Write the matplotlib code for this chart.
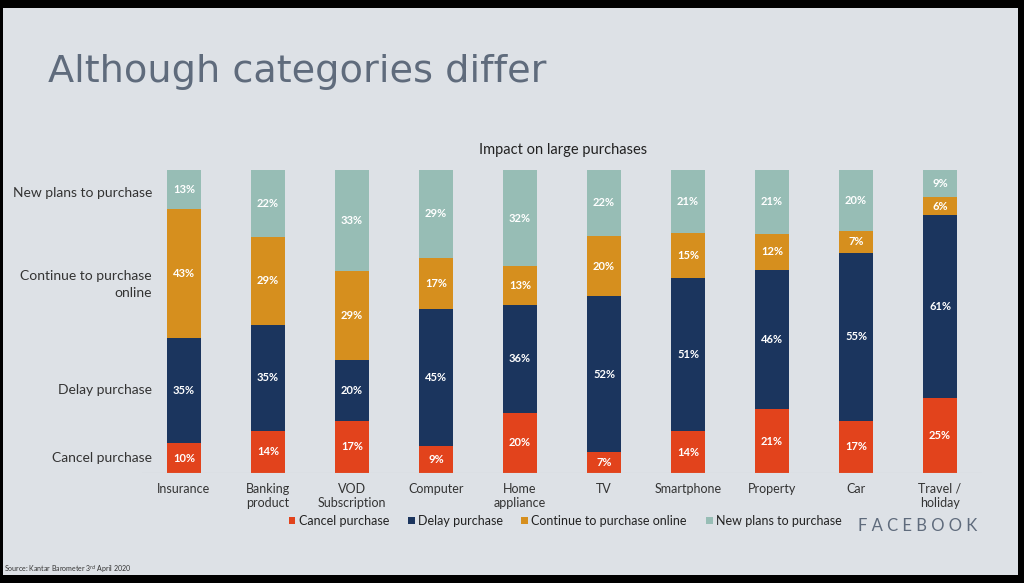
import matplotlib.pyplot as plt
import numpy as np

categories = ['Insurance', 'Banking\nproduct', 'VOD\nSubscription', 'Computer', 'Home\nappliance',
              'TV', 'Smartphone', 'Property', 'Car', 'Travel /\nholiday']
series = ['Cancel purchase', 'Delay purchase', 'Continue to purchase online', 'New plans to purchase']
side_labels = ['Cancel purchase', 'Delay purchase', 'Continue to purchase\nonline', 'New plans to purchase']
cancel = [10, 14, 17, 9, 20, 7, 14, 21, 17, 25]
delay = [35, 35, 20, 45, 36, 52, 51, 46, 55, 61]
online = [43, 29, 29, 17, 13, 20, 15, 12, 7, 6]
new_plans = [13, 22, 33, 29, 32, 22, 21, 21, 20, 9]
colors = ['#e2431c', '#1b355e', '#d68f1e', '#97bdb5']

bg = '#dde1e6'
plt.rcParams['font.family'] = ['Lato', 'DejaVu Sans']

fig = plt.figure(figsize=(10.24, 5.83), dpi=100, facecolor='black')
# light slide area inside black frame
fig.patches.append(plt.Rectangle((3 / 1024, 8 / 583), 1015 / 1024, 567 / 583,
                                 transform=fig.transFigure, facecolor=bg, edgecolor='none', zorder=-1))

ax = fig.add_axes([142 / 1024, 1 - 473 / 583, 840 / 1024, 303 / 583], zorder=2)
ax.patch.set_alpha(0)

data = np.array([cancel, delay, online, new_plans], dtype=float)
share = data / data.sum(axis=0)
x = np.arange(len(categories))
bottom = np.zeros(len(categories))
label_shift = [0.0, 0.0, -0.035, -0.012]  # small nudges for the left-hand names
for i, name in enumerate(series):
    ax.bar(x, share[i], 0.40, bottom=bottom, color=colors[i], label=name)
    for j in range(len(categories)):
        ax.text(x[j], bottom[j] + share[i][j] / 2, f'{int(data[i][j])}%', ha='center', va='center',
                color='white', fontsize=8, fontweight='bold')
    # series names on the left, next to the first bar
    ax.text(-0.38, bottom[0] + share[i][0] / 2 + label_shift[i], side_labels[i], ha='right', va='center',
            fontsize=10, color='#333333', linespacing=1.5)
    bottom += share[i]

ax.set_xlim(-0.5, len(categories) - 0.5)
ax.set_ylim(0, 1)
ax.axhline(0, color='#c8ccd2', lw=0.8)
for s in ax.spines.values():
    s.set_visible(False)
ax.set_yticks([])
ax.set_xticks(x)
ax.set_xticklabels(categories, fontsize=9, color='#333333', linespacing=1.2, va='top')
ax.tick_params(axis='x', length=0, pad=7)

fig.text(563 / 1024, 1 - 150 / 583, 'Impact on large purchases', ha='center', va='center',
         fontsize=10.5, color='#222222')
fig.text(48 / 1024, 1 - 72 / 583, 'Although categories differ', ha='left', va='center',
         fontsize=27.5, color='#5f6b7c', family='DejaVu Sans')

leg = fig.legend(loc='center', bbox_to_anchor=(565 / 1024, 1 - 521 / 583), ncol=4, frameon=False,
                 fontsize=9, handlelength=0.55, handleheight=0.55, handletextpad=0.25, columnspacing=1.5)
for t in leg.get_texts():
    t.set_color('#222222')

fig.text(918 / 1024, 1 - 526 / 583, 'F A C E B O O K', ha='center', va='center',
         fontsize=12, color='#5f6b7c')
fig.text(4 / 1024, 1 - 570 / 583, 'Source: Kantar Barometer 3$^{rd}$ April 2020', ha='left', va='center',
         fontsize=5, color='#333333', family=['Liberation Sans Narrow', 'Lato'])

fig.savefig('out.png', dpi=100, facecolor=fig.get_facecolor())
